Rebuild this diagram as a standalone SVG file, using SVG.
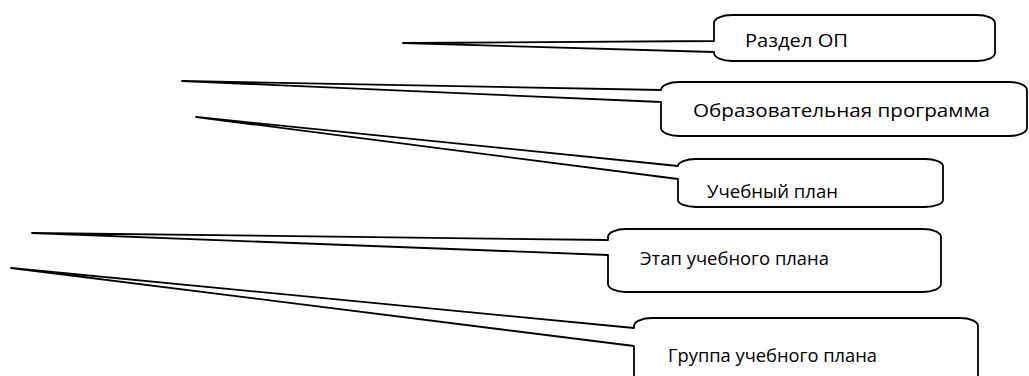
<svg xmlns="http://www.w3.org/2000/svg" width="1029" height="376" viewBox="0 0 1029 376">
<style>
.c{fill:#fff;stroke:#000;stroke-width:1.8;stroke-linejoin:round}
.t{font-family:"Open Sans","Liberation Sans",sans-serif;font-size:18px;fill:#000}
</style>
<rect width="1029" height="376" fill="#fff"/>
<g id="connectors"></g>
<g id="node1">
<path class="c" d="M732,15 H977 A18 8 0 0 1 995,23 V53 A18 8 0 0 1 977,61 H732 A18 8 0 0 1 714,53 V52 L403,43 L714,41 V23 A18 8 0 0 1 732,15 Z"/>
<text class="t" x="745" y="47" textLength="103" lengthAdjust="spacingAndGlyphs">Раздел ОП</text>
</g>
<g id="node2">
<path class="c" d="M679,82 H1009 A18 8 0 0 1 1027,90 V128 A18 8 0 0 1 1009,136 H679 A18 8 0 0 1 661,128 V102 L182,81 L661,90 A18 8 0 0 1 679,82 Z"/>
<text class="t" x="693" y="117" textLength="297" lengthAdjust="spacingAndGlyphs">Образовательная программа</text>
</g>
<g id="node3">
<path class="c" d="M696,159 H925 A18 7 0 0 1 943,166 V200 A18 7 0 0 1 925,207 H696 A18 7 0 0 1 678,200 V179 L196,117 L678,166 A18 7 0 0 1 696,159 Z"/>
<text class="t" x="707" y="198" textLength="131" lengthAdjust="spacingAndGlyphs">Учебный план</text>
</g>
<g id="node4">
<path class="c" d="M626,229 H923 A18 8 0 0 1 941,237 V284 A18 8 0 0 1 923,292 H626 A18 8 0 0 1 608,284 V255 L32,233 L608,240 V237 A18 8 0 0 1 626,229 Z"/>
<text class="t" x="640" y="265" textLength="189" lengthAdjust="spacingAndGlyphs">Этап учебного плана</text>
</g>
<g id="node5">
<path class="c" d="M652,318 H960 A18 8 0 0 1 978,326 V377 A18 8 0 0 1 960,385 H652 A18 8 0 0 1 634,377 V346 L11,268 L634,328 V326 A18 8 0 0 1 652,318 Z"/>
<text class="t" x="668" y="362" textLength="209" lengthAdjust="spacingAndGlyphs">Группа учебного плана</text>
</g>
</svg>
